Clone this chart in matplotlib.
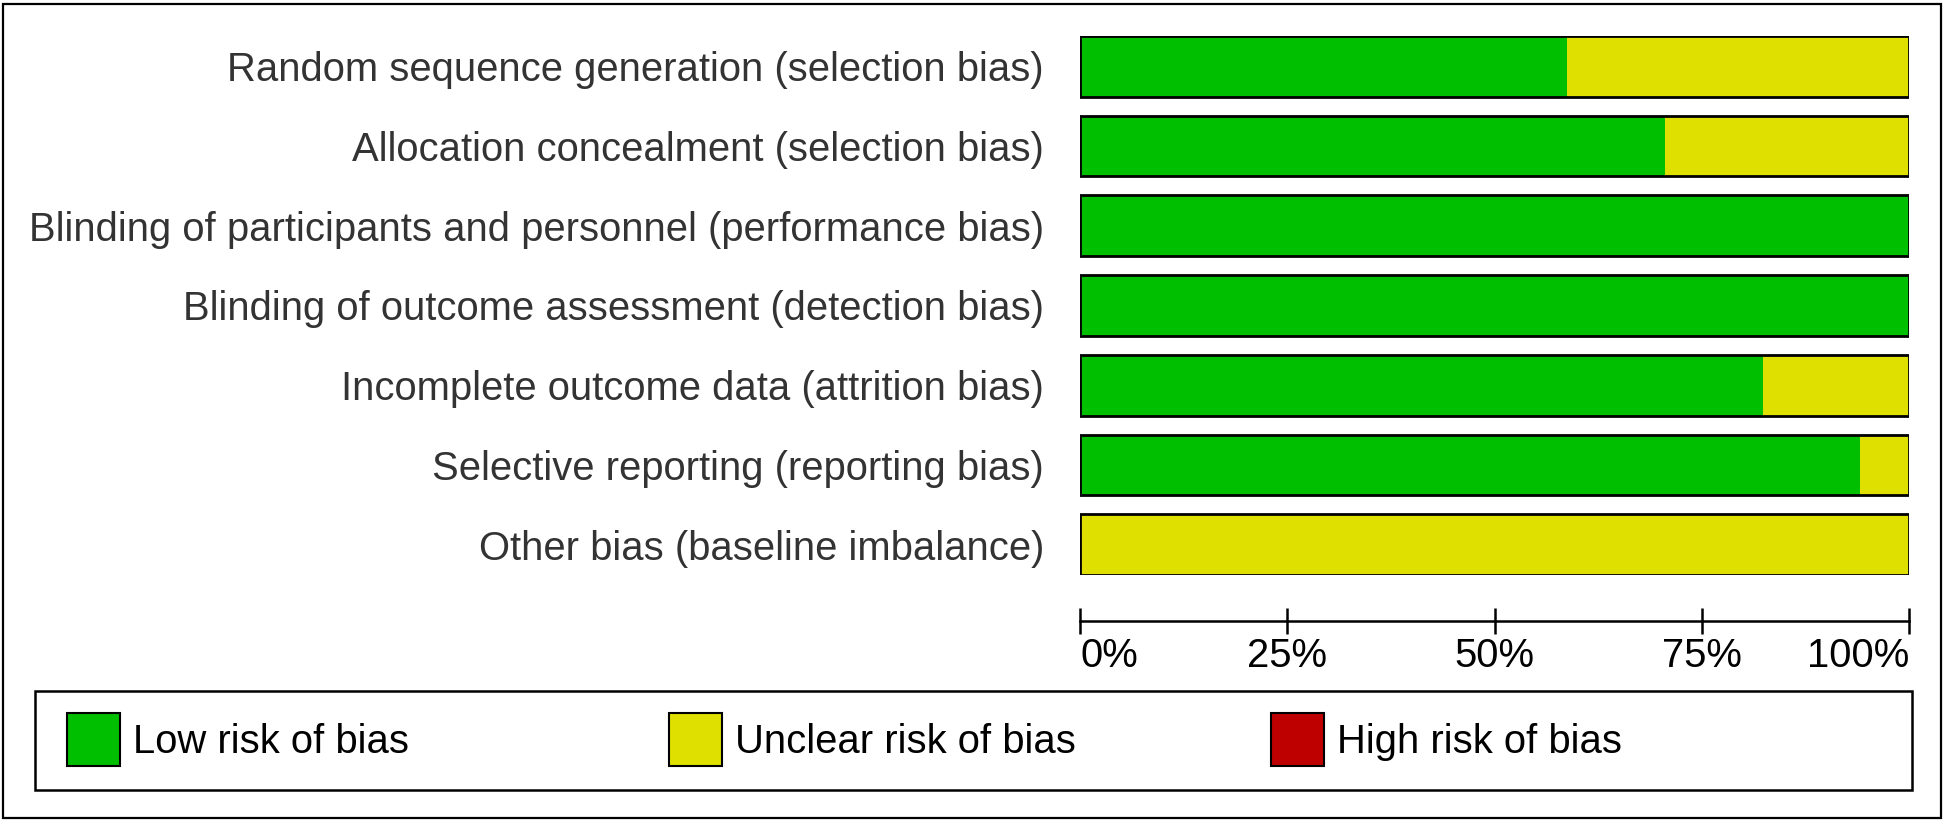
import matplotlib
matplotlib.use('Agg')
import numpy as np
import matplotlib.pyplot as plt
import matplotlib.transforms as mtransforms
from matplotlib.patches import Rectangle

# risk of bias summary (percent of included studies)
domains = [
    'Random sequence generation (selection bias)',
    'Allocation concealment (selection bias)',
    'Blinding of participants and personnel (performance bias)',
    'Blinding of outcome assessment (detection bias)',
    'Incomplete outcome data (attrition bias)',
    'Selective reporting (reporting bias)',
    'Other bias (baseline imbalance)',
]
low_risk = [58.8, 70.6, 100, 100, 82.4, 94.1, 0]
unclear_risk = [41.2, 29.4, 0, 0, 17.6, 5.9, 100]
high_risk = [0, 0, 0, 0, 0, 0, 0]

tick_values = [0, 25, 50, 75, 100]
tick_labels = ['0%', '25%', '50%', '75%', '100%']

legend_labels = ['Low risk of bias', 'Unclear risk of bias', 'High risk of bias']

green = '#00bf00'
yellow = '#dfdf00'
red = '#bf0000'
legend_colors = [green, yellow, red]

plt.rcParams['font.family'] = ['Liberation Sans', 'DejaVu Sans']
fs = 28.8  # ~40 px at dpi 100

W, H = 1946, 824
fig = plt.figure(figsize=(W / 100, H / 100), dpi=100)

def fx(x):
    return x / W

def fy(y):
    return 1 - y / H

# bar panel, pixel box of the bars
left, right, top, bottom = 1080, 1909, 36, 575
ax = fig.add_axes([fx(left), fy(bottom), (right - left) / W, (bottom - top) / H])

y = np.arange(len(domains))
h = 0.7625
low = np.array(low_risk)
unc = np.array(unclear_risk)
high = np.array(high_risk)
ax.barh(y, low, height=h, color=green, linewidth=0)
ax.barh(y, unc, left=low, height=h, color=yellow, linewidth=0)
ax.barh(y, high, left=low + unc, height=h, color=red, linewidth=0)
ax.barh(y, low + unc + high, height=h, fill=False, edgecolor='black', linewidth=2)

ax.set_xlim(0, 100)
ax.set_ylim(len(domains) - 1 + h / 2, -h / 2)

ax.tick_params(axis='y', length=0, pad=26, labelsize=fs, labelcolor='#333333')
ax.tick_params(axis='x', direction='inout', length=19.4, width=1.8,
               labelbottom=False)

ax.set_yticks(y)
ax.set_yticklabels(domains)
ax.set_xticks(tick_values)

# percent labels: first flush left, last flush right, like the original
trans = mtransforms.blended_transform_factory(ax.transData, fig.transFigure)
for i, (v, lab) in enumerate(zip(tick_values, tick_labels)):
    ha = 'left' if i == 0 else ('right' if i == len(tick_values) - 1 else 'center')
    ax.text(v, fy(667), lab, transform=trans, ha=ha, va='baseline',
            fontsize=fs, color='black', clip_on=False)

for s in ['left', 'top', 'right']:
    ax.spines[s].set_visible(False)
ax.spines['bottom'].set_position(('outward', 33))
ax.spines['bottom'].set_linewidth(1.8)
ax.set_facecolor('none')

# legend box
fig.patches.append(Rectangle((fx(35), fy(790)), (1912 - 35) / W, (790 - 691) / H,
                             transform=fig.transFigure, fill=False,
                             edgecolor='black', linewidth=1.8))
x0, step, size, ptop = 67, 602, 53, 713
for i, (lab, col) in enumerate(zip(legend_labels, legend_colors)):
    px = x0 + i * step
    fig.patches.append(Rectangle((fx(px), fy(ptop + size)), size / W, size / H,
                                 transform=fig.transFigure, facecolor=col,
                                 edgecolor='black', linewidth=1.5))
    fig.text(fx(px + size + 13), fy(753), lab, fontsize=fs, color='black',
             ha='left', va='baseline')

# outer frame
fig.patches.append(Rectangle((fx(3), fy(818)), (1941 - 3) / W, (818 - 4) / H,
                             transform=fig.transFigure, fill=False,
                             edgecolor='black', linewidth=1.6))

fig.savefig('out.png', dpi=100, facecolor='white')
